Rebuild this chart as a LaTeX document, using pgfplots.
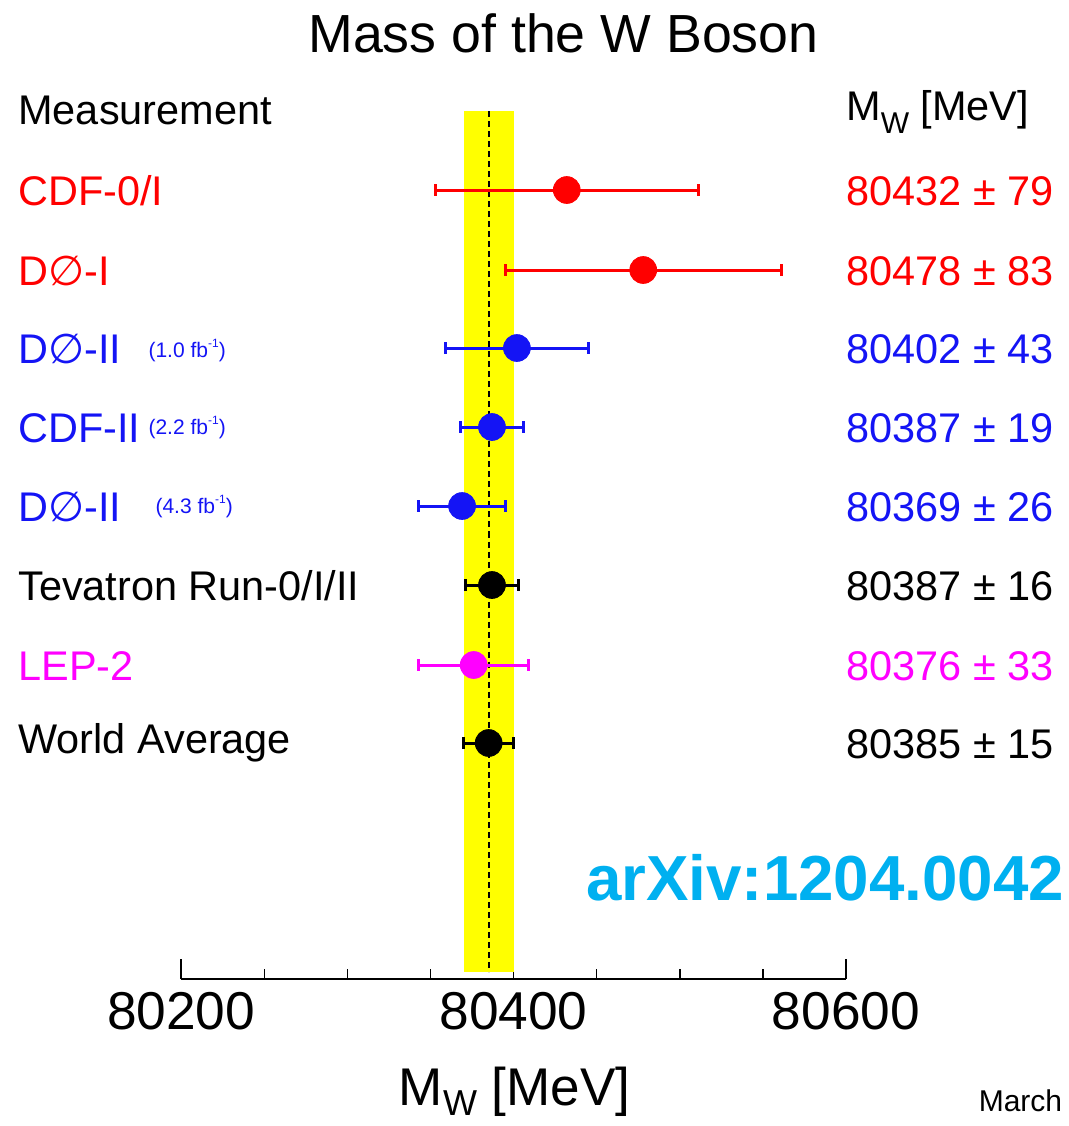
\documentclass[border=0pt]{standalone}
\usepackage{pgfplots}
\pgfplotsset{compat=1.18}
\usepackage{fontspec}
\setmainfont{Liberation Sans}
\newfontfamily\symfont{DejaVu Sans}
\definecolor{mred}{RGB}{255,0,0}
\definecolor{mblue}{RGB}{20,20,245}
\definecolor{mmag}{RGB}{255,0,255}
\definecolor{myel}{RGB}{255,255,0}
\definecolor{mcyan}{RGB}{0,176,240}
\newcommand{\DO}{D{\symfont ∅}}
\newcommand{\lab}{\fontsize{20.7}{24}\selectfont}
\newcommand{\fb}[1]{{\fontsize{10.5}{12}\selectfont(#1 fb\raisebox{0.45em}{\fontsize{6}{6}\selectfont -1})}}
\pgfplotsset{mpt/.style={only marks, mark=*, mark size=6.7pt, color=#1, mark options={fill=#1, draw=#1},
  error bars/.cd, x dir=both, x explicit, error mark=|,
  error bar style={line width=1.5pt, #1},
  error mark options={line width=1.5pt, mark size=2.8pt, #1}}}
\begin{document}
\begin{tikzpicture}
\begin{axis}[
  scale only axis, width=332pt, height=433.5pt,
  xmin=80200, xmax=80600, ymin=111, ymax=979, y dir=reverse,
  axis x line*=bottom, axis y line=none,
  xtick={80200,80400,80600},
  minor xtick={80250,80300,80350,80450,80500,80550},
  scaled x ticks=false,
  tick align=inside, major tick length=10pt, minor tick length=5pt,
  tick style={black, line width=0.8pt},
  axis line style={line width=0.8pt},
  /pgf/number format/1000 sep={},
  /pgf/number format/assume math mode=true,
  xticklabel style={font=\fontsize{26.6}{30}\selectfont, yshift=-3pt},
  clip=false,
]
\path (axis cs:80090.96,0) rectangle (axis cs:80733.73,1126);
\addplot[fill=myel, draw=none, forget plot] coordinates {(80370,111) (80400,111) (80400,972) (80370,972)} -- cycle;
\addplot[black, line width=1pt, dash pattern=on 3pt off 2pt, forget plot] coordinates {(80385,111) (80385,972)};
\addplot[mpt=mred] coordinates {(80432,190) +- (79,0) (80478,270) +- (83,0)};
\addplot[mpt=mblue] coordinates {(80402,348) +- (43,0) (80387,427) +- (19,0) (80369,506) +- (26,0)};
\addplot[mpt=black] coordinates {(80387,585) +- (16,0) (80385,743) +- (15,0)};
\addplot[mpt=mmag] coordinates {(80376,665) +- (33,0)};
% title
\node[anchor=base, font=\fontsize{26.8}{30}\selectfont] at (axis cs:80430,52) {Mass of the W Boson};
% headers
\node[anchor=base west, font=\lab, inner sep=0pt] at (axis cs:80101.8,124) {Measurement};
\node[anchor=base west, font=\lab, inner sep=0pt] at (axis cs:80600,120) {M\raisebox{-0.32em}{\fontsize{15}{16}\selectfont W} [MeV]};
% labels
\node[anchor=base west, font=\lab, inner sep=0pt, text=mred] at (axis cs:80101.8,205) {CDF-0/I};
\node[anchor=base west, font=\lab, inner sep=0pt, text=mred] at (axis cs:80101.8,285) {\DO-I};
\node[anchor=base west, font=\lab, inner sep=0pt, text=mblue] at (axis cs:80101.8,363) {\DO-II};
\node[anchor=base west, font=\lab, inner sep=0pt, text=mblue] at (axis cs:80101.8,442) {CDF-II};
\node[anchor=base west, font=\lab, inner sep=0pt, text=mblue] at (axis cs:80101.8,521) {\DO-II};
\node[anchor=base west, font=\lab, inner sep=0pt, text=black] at (axis cs:80101.8,600) {Tevatron Run-0/I/II};
\node[anchor=base west, font=\lab, inner sep=0pt, text=mmag] at (axis cs:80101.8,680) {LEP-2};
\node[anchor=base west, font=\lab, inner sep=0pt, text=black] at (axis cs:80101.8,753) {World Average};
\node[anchor=base west, inner sep=0pt, text=mblue] at (axis cs:80180.1,357) {\fb{1.0}};
\node[anchor=base west, inner sep=0pt, text=mblue] at (axis cs:80180.1,434) {\fb{2.2}};
\node[anchor=base west, inner sep=0pt, text=mblue] at (axis cs:80184.3,513) {\fb{4.3}};
% values
\node[anchor=base west, font=\lab, inner sep=0pt, text=mred] at (axis cs:80600,205) {80432 ± 79};
\node[anchor=base west, font=\lab, inner sep=0pt, text=mred] at (axis cs:80600,285) {80478 ± 83};
\node[anchor=base west, font=\lab, inner sep=0pt, text=mblue] at (axis cs:80600,363) {80402 ± 43};
\node[anchor=base west, font=\lab, inner sep=0pt, text=mblue] at (axis cs:80600,442) {80387 ± 19};
\node[anchor=base west, font=\lab, inner sep=0pt, text=mblue] at (axis cs:80600,521) {80369 ± 26};
\node[anchor=base west, font=\lab, inner sep=0pt, text=black] at (axis cs:80600,600) {80387 ± 16};
\node[anchor=base west, font=\lab, inner sep=0pt, text=mmag] at (axis cs:80600,680) {80376 ± 33};
\node[anchor=base west, font=\lab, inner sep=0pt, text=black] at (axis cs:80600,758) {80385 ± 15};
% arXiv
\node[anchor=base west, inner sep=0pt, text=mcyan, font=\fontsize{31.8}{34}\selectfont\bfseries] at (axis cs:80443.4,900) {arXiv:1204.0042};
% axis label
\node[anchor=base west, inner sep=0pt, font=\fontsize{26.5}{30}\selectfont] at (axis cs:80330.7,1105) {M\raisebox{-5pt}{\fontsize{18}{20}\selectfont W} [MeV]};
\node[anchor=base, inner sep=0pt, font=\fontsize{15}{16}\selectfont] at (axis cs:80705,1111) {March};
\end{axis}
\end{tikzpicture}
\end{document}
